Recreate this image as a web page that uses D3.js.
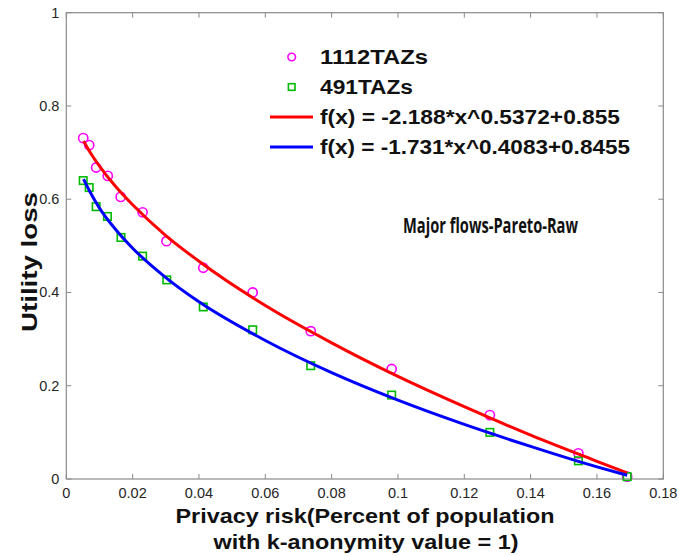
<!DOCTYPE html>
<html>
<head>
<meta charset="utf-8">
<script src="https://cdn.jsdelivr.net/npm/d3@7"></script>
<style>
  html, body { margin: 0; padding: 0; background: #fff; }
  svg { display: block; }
</style>
</head>
<body>
<svg id="chart" width="679" height="556"></svg>
<script>
// ---------------- data ----------------
const xTicks = [0, 0.02, 0.04, 0.06, 0.08, 0.1, 0.12, 0.14, 0.16, 0.18];
const xTickLabels = ["0", "0.02", "0.04", "0.06", "0.08", "0.1", "0.12", "0.14", "0.16", "0.18"];
const yTicks = [0, 0.2, 0.4, 0.6, 0.8, 1];
const yTickLabels = ["0", "0.2", "0.4", "0.6", "0.8", "1"];

// 1112 TAZs (magenta circles)
const taz1112X = [0.0051, 0.0069, 0.0090, 0.0125, 0.0164, 0.0230, 0.0302, 0.0413, 0.0562, 0.0737, 0.0981, 0.1277, 0.1544, 0.1691];
const taz1112Y = [0.731, 0.716, 0.668, 0.650, 0.605, 0.572, 0.510, 0.453, 0.400, 0.317, 0.236, 0.137, 0.055, 0.005];
// 491 TAZs (green squares)
const taz491X = [0.0051, 0.0069, 0.0090, 0.0124, 0.0165, 0.0230, 0.0303, 0.0413, 0.0562, 0.0737, 0.0981, 0.1277, 0.1544, 0.1691];
const taz491Y = [0.640, 0.625, 0.584, 0.563, 0.518, 0.478, 0.427, 0.369, 0.320, 0.243, 0.180, 0.100, 0.039, 0.005];

// fitted curves at sample positions
const fitX = [0.0052, 0.0075, 0.01, 0.015, 0.02, 0.03, 0.04, 0.06, 0.08, 0.10, 0.12, 0.14, 0.16, 0.1691];
const fit1112Y = [0.725, 0.697, 0.671, 0.626, 0.588, 0.522, 0.467, 0.372, 0.292, 0.220, 0.155, 0.094, 0.038, 0.013];
const fit491Y = [0.643, 0.611, 0.581, 0.534, 0.495, 0.432, 0.380, 0.297, 0.228, 0.169, 0.117, 0.070, 0.026, 0.008];

const legendLabels = ["1112TAZs", "491TAZs", "f(x) = -2.188*x^0.5372+0.855", "f(x) = -1.731*x^0.4083+0.8455"];
const titleText = "Major flows-Pareto-Raw";
const xLabelLines = ["Privacy risk(Percent of population", "with k-anonymity value = 1)"];
const yLabelText = "Utility loss";

// ---------------- layout ----------------
const svg = d3.select("#chart");
const L = 66.3, R = 663.3, T = 12.7, B = 479;
const x = d3.scaleLinear().domain([0, 0.18]).range([L, R]);
const y = d3.scaleLinear().domain([0, 1]).range([B, T]);

const boxColor = "#8a8a8a";
const tickLen = 5;
const fontTick = "Liberation Sans, Arial, sans-serif";

// box
svg.append("rect").attr("x", L).attr("y", T).attr("width", R - L).attr("height", B - T)
  .attr("fill", "none").attr("stroke", boxColor).attr("stroke-width", 1.2);

// inward ticks on all sides
const tg = svg.append("g").attr("stroke", boxColor).attr("stroke-width", 1);
xTicks.forEach(v => {
  tg.append("line").attr("x1", x(v)).attr("x2", x(v)).attr("y1", B).attr("y2", B - tickLen);
  tg.append("line").attr("x1", x(v)).attr("x2", x(v)).attr("y1", T).attr("y2", T + tickLen);
});
yTicks.forEach(v => {
  tg.append("line").attr("x1", L).attr("x2", L + tickLen).attr("y1", y(v)).attr("y2", y(v));
  tg.append("line").attr("x1", R).attr("x2", R - tickLen).attr("y1", y(v)).attr("y2", y(v));
});

// tick labels
svg.append("g").selectAll("text").data(xTicks).join("text")
  .attr("x", d => x(d)).attr("y", B + 19)
  .attr("text-anchor", "middle")
  .attr("font-family", fontTick).attr("font-size", 14.5).attr("fill", "#262626")
  .text((d, i) => xTickLabels[i]);
svg.append("g").selectAll("text").data(yTicks).join("text")
  .attr("x", L - 7).attr("y", d => y(d) + 5)
  .attr("text-anchor", "end")
  .attr("font-family", fontTick).attr("font-size", 14.5).attr("fill", "#262626")
  .text((d, i) => yTickLabels[i]);

// axis labels
const xl = svg.append("g").attr("font-family", fontTick).attr("font-weight", "bold")
  .attr("font-size", 21).attr("fill", "#111");
xl.append("text").attr("x", 365).attr("y", 523).attr("text-anchor", "middle")
  .attr("textLength", 379).attr("lengthAdjust", "spacingAndGlyphs").text(xLabelLines[0]);
xl.append("text").attr("x", 366).attr("y", 549).attr("text-anchor", "middle")
  .attr("textLength", 305).attr("lengthAdjust", "spacingAndGlyphs").text(xLabelLines[1]);

svg.append("text")
  .attr("transform", "translate(37,262) rotate(-90)")
  .attr("text-anchor", "middle")
  .attr("font-family", fontTick).attr("font-weight", "bold").attr("font-size", 21.5).attr("fill", "#111")
  .attr("textLength", 140).attr("lengthAdjust", "spacingAndGlyphs")
  .text(yLabelText);

// data markers
const circ = taz1112X.map((v, i) => ({x: v, y: taz1112Y[i]}));
const sq = taz491X.map((v, i) => ({x: v, y: taz491Y[i]}));
const magenta = "#ff00ff", green = "#00bb00";

svg.append("g").selectAll("circle").data(circ).join("circle")
  .attr("cx", d => x(d.x)).attr("cy", d => y(d.y)).attr("r", 4.6)
  .attr("fill", "none").attr("stroke", magenta).attr("stroke-width", 1.6);
const s = 7.5;
svg.append("g").selectAll("rect").data(sq).join("rect")
  .attr("x", d => x(d.x) - s / 2).attr("y", d => y(d.y) - s / 2)
  .attr("width", s).attr("height", s)
  .attr("fill", "none").attr("stroke", green).attr("stroke-width", 1.6);

// fitted lines
const line = d3.line().x(d => x(d[0])).y(d => y(d[1])).curve(d3.curveMonotoneX);
svg.append("path").datum(fitX.map((v, i) => [v, fit1112Y[i]]))
  .attr("d", line).attr("fill", "none").attr("stroke", "#ff0000").attr("stroke-width", 3);
svg.append("path").datum(fitX.map((v, i) => [v, fit491Y[i]]))
  .attr("d", line).attr("fill", "none").attr("stroke", "#0000ff").attr("stroke-width", 3);

// legend
const lg = svg.append("g");
const legY = [57, 87, 117, 147];
const legW = [108, 93, 300, 310];
lg.append("circle").attr("cx", 291.7).attr("cy", legY[0]).attr("r", 3.8)
  .attr("fill", "none").attr("stroke", magenta).attr("stroke-width", 1.6);
lg.append("rect").attr("x", 291.7 - 3.3).attr("y", legY[1] - 3.3).attr("width", 6.6).attr("height", 6.6)
  .attr("fill", "none").attr("stroke", green).attr("stroke-width", 1.6);
lg.append("line").attr("x1", 270).attr("x2", 313).attr("y1", legY[2]).attr("y2", legY[2])
  .attr("stroke", "#ff0000").attr("stroke-width", 3);
lg.append("line").attr("x1", 270).attr("x2", 313).attr("y1", legY[3]).attr("y2", legY[3])
  .attr("stroke", "#0000ff").attr("stroke-width", 3);
legendLabels.forEach((t, i) => {
  lg.append("text").attr("x", 320).attr("y", legY[i] + 7)
    .attr("font-family", fontTick).attr("font-weight", "bold").attr("font-size", 19.5)
    .attr("fill", "#111")
    .attr("textLength", legW[i]).attr("lengthAdjust", "spacingAndGlyphs")
    .text(t);
});

// annotation title
svg.append("text").attr("x", 403).attr("y", 233)
  .attr("font-family", "Open Sans, Noto Sans, sans-serif").attr("font-weight", "bold")
  .attr("font-size", 22).attr("fill", "#111")
  .attr("textLength", 175).attr("lengthAdjust", "spacingAndGlyphs")
  .text(titleText);
</script>
</body>
</html>
